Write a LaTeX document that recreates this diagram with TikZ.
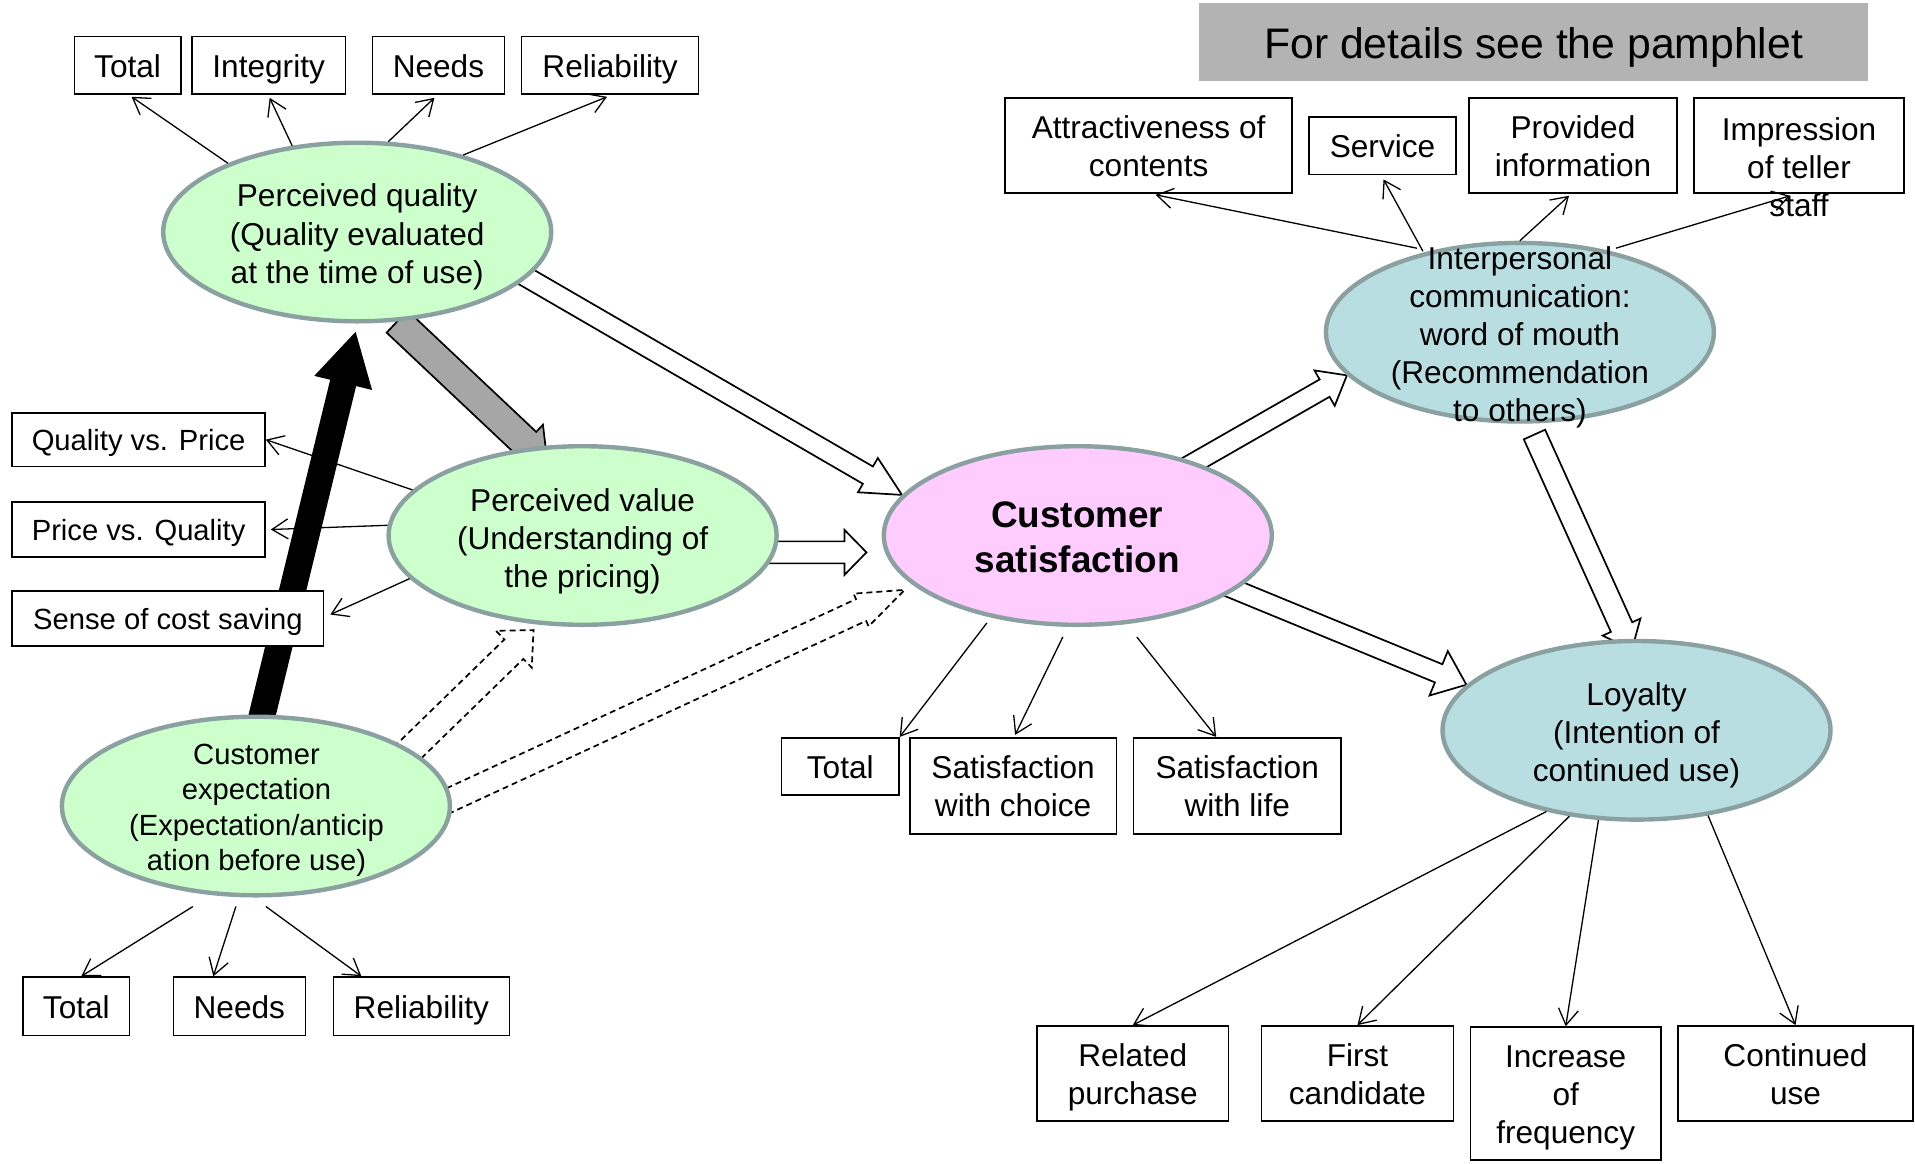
\documentclass[tikz,border=0pt]{standalone}
\usepackage{fontspec}
\setmainfont{Liberation Sans}
\usetikzlibrary{arrows.meta,calc,shapes.geometric}
\pgfdeclarelayer{background}
\pgfsetlayers{background,main}

\definecolor{ellline}{HTML}{8AA0A1}
\definecolor{greenfill}{HTML}{CCFFCC}
\definecolor{pinkfill}{HTML}{FFCCFF}
\definecolor{bluefill}{HTML}{B8DEE1}
\definecolor{headgray}{HTML}{B3B3B3}
\definecolor{arrowgray}{HTML}{A6A6A6}

\newcommand\fsMain{\fontsize{15.8pt}{19pt}\selectfont}
\newcommand\fsSmall{\fontsize{14.6pt}{17.7pt}\selectfont}
\newcommand\fsBig{\fontsize{18.45pt}{22.5pt}\selectfont\bfseries}
\newcommand\fsHead{\fontsize{21.35pt}{25pt}\selectfont}
% uniform line height and depth so that every label sits at the same level
\newcommand\tstrut{\rule[-0.22em]{0pt}{1.2em}}
% first line of a label of several lines
\newcommand\fl{\rule{0pt}{0.96em}}

% block arrow: [style]{tail}{tip}{half shaft}{half head}{head length}{tail extension}
\newcommand\blockarrow[7][]{%
  \coordinate (baA0) at (#2);
  \coordinate (baB) at (#3);
  \coordinate (baA) at ($(baA0)!-#7!(baB)$);
  \coordinate (baC) at ($(baB)!#6!(baA)$);
  \draw[#1] ($(baA)!#4!90:(baB)$) -- ($(baC)!#4!-90:(baA)$) -- ($(baC)!#5!-90:(baA)$)
    -- (baB) -- ($(baC)!#5!90:(baA)$) -- ($(baC)!#4!90:(baA)$) -- ($(baA)!#4!-90:(baB)$) -- cycle;
}

\begin{document}
\begin{tikzpicture}[x=0.5pt,y=-0.5pt,
  ell/.style={ellipse, draw=ellline, line width=2.2pt, minimum width=194pt, minimum height=89.3pt, inner sep=0pt},
  lbl/.style={align=center, font=\fsMain, inner sep=0pt,
    execute at begin node=\tstrut, execute at end node=\tstrut},
  box/.style={draw, line width=0.8pt, fill=white, align=center, font=\fsMain, inner sep=0pt,
    execute at begin node=\tstrut, execute at end node=\tstrut},
  wh/.style 2 args={minimum width=#1*0.5pt, minimum height=#2*0.5pt},
  link/.style={line width=0.65pt, -{Straight Barb[length=8pt,width=10pt]}},
  hollow/.style={draw=black, line width=0.85pt, fill=white, line join=miter},
  grayarrow/.style={draw=black, line width=0.85pt, fill=arrowgray, line join=miter},
  blackarrow/.style={draw=black, line width=0.85pt, fill=black, line join=miter},
  dasharrow/.style={draw=black, line width=0.85pt, dash pattern=on 3pt off 2pt},
]
\useasboundingbox (0,0) rectangle (1915,1163);

% header
\node[fill=headgray, wh={669.7}{77.4}, font=\fsHead, inner sep=0pt,
  execute at begin node=\tstrut] (head) at (1533.6,42) {For details see the pamphlet};

% ellipses
\node[ell, fill=greenfill] (pq) at (357.2,232) {};
\node[ell, fill=greenfill] (pv) at (582.6,535.5) {};
\node[ell, fill=greenfill] (ce) at (255.9,806) {};
\node[ell, fill=pinkfill]  (cs) at (1077.8,535.5) {};
\node[ell, fill=bluefill]  (ic) at (1519.9,332.2) {};
\node[ell, fill=bluefill]  (ly) at (1636.5,730.3) {};

\node[lbl] (pq-t) at (357.2,233.3) {\fl Perceived quality\\(Quality evaluated\\at the time of use)};
\node[lbl] (pv-t) at (582.6,537.4) {\fl Perceived value\\(Understanding of\\the pricing)};
\node[lbl, font=\fsSmall] (ce-t) at (256.5,806.6) {\fl Customer\\expectation\\(Expectation/anticip\\ation before use)};
\node[lbl, font=\fsBig] (cs-t) at (1077.2,536.8) {\fl Customer\\satisfaction};
\node[lbl] (ic-t) at (1519.9,333.4) {\fl Interpersonal\\communication:\\word of mouth\\(Recommendation\\to others)};
\node[lbl] (ly-t) at (1636.5,732.2) {\fl Loyalty\\(Intention of\\continued use)};

% boxes around perceived quality
\node[box, wh={106.2}{57.4}] (total1) at (127.6,65.3) {Total};
\node[box, wh={153.9}{57.4}] (integ) at (268.65,65.3) {Integrity};
\node[box, wh={131.9}{57.4}] (needs1) at (438.45,65.3) {Needs};
\node[box, wh={177.1}{57.4}] (rel1) at (610.05,65.3) {Reliability};

% boxes of perceived value
\node[box, font=\fsSmall, wh={252.8}{53.7}] (qvp) at (138.6,439.65) {Quality vs. Price};
\node[box, font=\fsSmall, wh={252.8}{55}] (pvq) at (138.6,529.5) {Price vs. Quality};
\node[box, font=\fsSmall, wh={311.4}{55}] (sense) at (167.9,618.5) {Sense of cost saving};

% boxes of customer expectation
\node[box, wh={106.3}{58.6}] (total2) at (76.35,1006.3) {Total};
\node[box, wh={131.9}{58.6}] (needs2) at (239.35,1006.3) {Needs};
\node[box, wh={175.9}{58.6}] (rel2) at (421.35,1006.3) {Reliability};

% boxes of customer satisfaction
\node[box, wh={117.3}{57.4}] (total3) at (840.25,766.4) {Total};
\node[box, wh={206.4}{96.4}] (satc) at (1013.1,785.9) {\fl Satisfaction\\with choice};
\node[box, wh={207.6}{96.4}] (satl) at (1237.2,785.9) {\fl Satisfaction\\with life};

% boxes of word of mouth
\node[box, wh={287}{95.3}] (attr) at (1148.6,145.35) {\fl Attractiveness of\\contents};
\node[box, wh={146.6}{57.4}] (service) at (1382.5,145.9) {Service};
\node[box, wh={207.6}{95.3}] (prov) at (1573,145.35) {\fl Provided\\information};
\node[box, wh={210.1}{95.3}] (impr) at (1798.95,145.35) {};
\node[lbl] (impr-t) at (1799,167.3) {\fl Impression\\of teller\\staff};

% boxes of loyalty
\node[box, wh={191.7}{95.3}] (related) at (1132.75,1073.55) {\fl Related\\purchase};
\node[box, wh={191.7}{95.3}] (first) at (1357.45,1073.55) {\fl First\\candidate};
\node[box, wh={190.6}{133.1}] (increase) at (1565.7,1093.65) {\fl Increase\\of\\frequency};
\node[box, wh={235}{95.3}] (continued) at (1795.5,1073.55) {\fl Continued\\use};

% block arrows, beneath the ellipses
\begin{pgfonlayer}{background}
\blockarrow[hollow]{pq.-15.8}{cs.167.5}{5pt}{9.9pt}{19.7pt}{10pt}
\blockarrow[hollow]{pv.-5.4}{$(cs.185.4)+(-18.5,0)$}{5.5pt}{11.25pt}{11pt}{10pt}
\blockarrow[hollow]{cs.32}{ic.194}{5pt}{10.2pt}{12.85pt}{10pt}
\blockarrow[hollow]{cs.-19.5}{ly.165.7}{4.9pt}{12pt}{15pt}{10pt}
\blockarrow[hollow]{$(ic.-84)!6pt!(ly.96)$}{$(ly.96)!-6pt!(ic.-84)$}{5.85pt}{10.35pt}{12.5pt}{0pt}
\blockarrow[grayarrow]{pq.-66.2}{$(pv.center)+(-35,-72)$}{7.6pt}{12.5pt}{15pt}{0pt}
\blockarrow[blackarrow]{ce.86}{$(pq.south)+(-2,10)$}{6.25pt}{14.15pt}{25pt}{10pt}
\blockarrow[dasharrow]{ce.20}{$(pv.-119.2)+(0,6)$}{6.8pt}{12.85pt}{13.7pt}{10pt}
\blockarrow[dasharrow]{ce.2}{$(cs.197.5)!5pt!(ce.2)$}{6pt}{9pt}{24pt}{10pt}
\end{pgfonlayer}

% perceived quality links
\draw[link] (pq.152) -- ($(total1.south)+(4,2)$);
\draw[link] (pq.127) -- ($(integ.south)+(1,3)$);
\draw[link] (pq.71) -- ($(needs1.south)+(-4,3)$);
\draw[link] (pq.36) -- ($(rel1.south)+(-3,2)$);

% perceived value links
\draw[link] (pv.165.6) -- (qvp.east);
\draw[link] (pv.177) -- ($(pvq.east)+(5,0)$);
\draw[link] (pv.194) -- ($(sense.east)+(6,-4)$);

% customer expectation links
\draw[link] ($(ce.south)+(-63,9)$) -- ($(total2.north)+(5,0)$);
\draw[link] ($(ce.south)+(-20,9)$) -- ($(needs2.north)+(-26,0)$);
\draw[link] ($(ce.south)+(10,9)$) -- ($(rel2.north)+(-60,0)$);

% customer satisfaction links
\draw[link] ($(cs.south)+(-91,-4)$) -- (total3.north east);
\draw[link] ($(cs.south)+(-15,10)$) -- ($(satc.north)+(2,-2)$);
\draw[link] ($(cs.south)+(59,10)$) -- ($(satl.north)+(-21,0)$);

% word of mouth links
\draw[link] ($(ic.center)+(-103,-84)$) -- ($(attr.south)+(7,1)$);
\draw[link] ($(ic.center)+(-97,-81)$) -- ($(service.south)+(1,4)$);
\draw[link] (ic.north) -- ($(prov.south)+(-4,2)$);
\draw[link] ($(ic.center)+(96,-84)$) -- ($(impr.south)+(-9,2)$);

% loyalty links
\draw[link] (ly.222.6) -- (related.north);
\draw[link] (ly.-128.4) -- (first.north);
\draw[link] (ly.-113.5) -- (increase.north);
\draw[link] (ly.-50.7) -- (continued.north);
\end{tikzpicture}
\end{document}
